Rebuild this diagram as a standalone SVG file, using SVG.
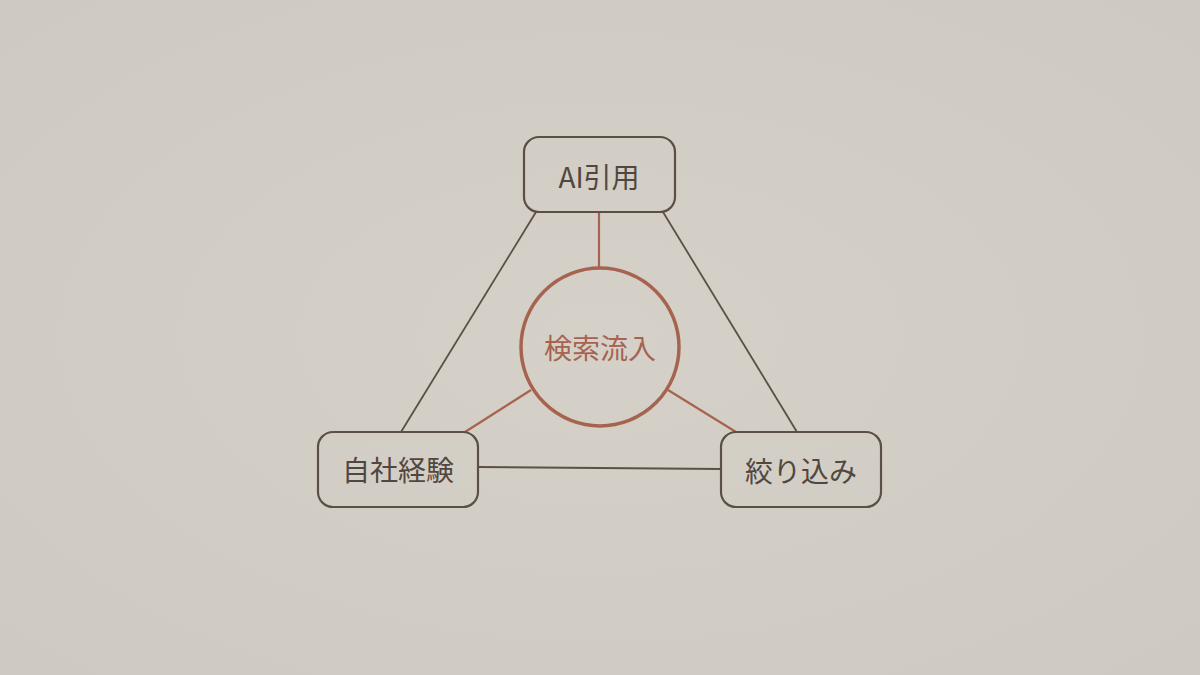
<svg xmlns="http://www.w3.org/2000/svg" width="1200" height="675" viewBox="0 0 1200 675">
  <defs>
    <radialGradient id="bg" cx="50%" cy="50%" r="70%">
      <stop offset="0" stop-color="#d6d1c8"/>
      <stop offset="1" stop-color="#cfcac1"/>
    </radialGradient>
    <style>
      .box{fill:none;stroke:#5b4f47;stroke-width:2.2}
      .lbl{font-family:"Noto Sans CJK JP","Noto Sans",sans-serif;font-size:28px;fill:#52473f;text-anchor:middle;dominant-baseline:central}
      .dark{stroke:#5b4f47;stroke-width:1.8;fill:none}
      .red{stroke:#a6634f;stroke-width:2.2;fill:none}
    </style>
  </defs>
  <rect width="1200" height="675" fill="url(#bg)"/>
  <g id="connectors">
    <line class="red" x1="599" y1="212" x2="599" y2="268"/>
    <line class="red" x1="531" y1="390" x2="465" y2="432"/>
    <line class="red" x1="668" y1="390" x2="736" y2="432"/>
    <line class="dark" x1="536" y1="212" x2="401" y2="432"/>
    <line class="dark" x1="663" y1="212" x2="797" y2="432"/>
    <line class="dark" x1="478" y1="467" x2="721" y2="469"/>
  </g>
  <g id="node-ai">
    <rect class="box" x="524" y="137" width="151" height="75" rx="15"/>
    <text class="lbl" x="599" y="176">AI引用</text>
  </g>
  <g id="node-search">
    <circle cx="600" cy="347" r="79" fill="none" stroke="#a6634f" stroke-width="3.5"/>
    <text class="lbl" x="600" y="347" style="fill:#a6634f">検索流入</text>
  </g>
  <g id="node-own">
    <rect class="box" x="318" y="432" width="160" height="75" rx="15"/>
    <text class="lbl" x="398" y="469">自社経験</text>
  </g>
  <g id="node-filter">
    <rect class="box" x="721" y="432" width="160" height="75" rx="15"/>
    <text class="lbl" x="801" y="470">絞り込み</text>
  </g>
</svg>
